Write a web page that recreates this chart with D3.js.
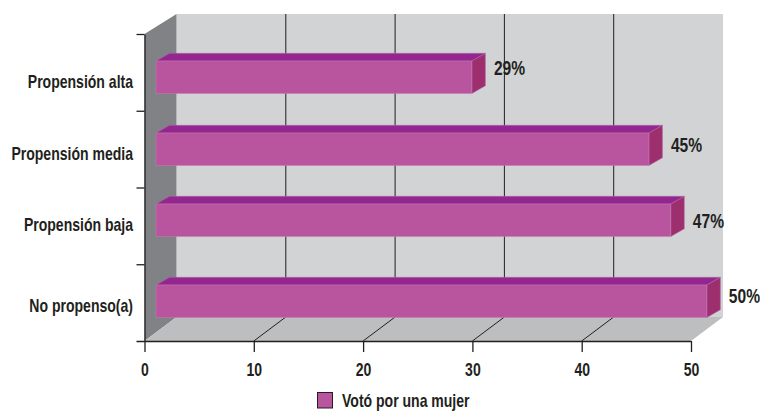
<!DOCTYPE html>
<html>
<head>
<meta charset="utf-8">
<script src="https://d3js.org/d3.v7.min.js"></script>
<style>
  html, body { margin: 0; padding: 0; background: #fff; }
  svg { display: block; }
  text { font-family: "Liberation Sans", sans-serif; font-weight: bold; fill: #231f20; font-size: 18px; }
  .axis path, .axis line { stroke: #231f20; stroke-width: 1.3; }
</style>
</head>
<body>
<script>
// datos
var categories = ["Propensión alta", "Propensión media", "Propensión baja", "No propenso(a)"];
var values = [28.9, 45.1, 47.1, 50.4];
var valueLabels = ["29%", "45%", "47%", "50%"];
var xTicks = [0, 10, 20, 30, 40, 50];
var legendLabel = "Votó por una mujer";

var width = 760, height = 411;
var squeeze = 0.78; // no condensed font here, so squeeze the text by hand

var svg = d3.select("body").append("svg")
  .attr("width", width)
  .attr("height", height);

// escalas
var x = d3.scaleLinear().domain([0, 50]).range([144.5, 691]);
var yTick = d3.scaleLinear().domain([0, 4]).range([34, 341]);
// bars and value labels are not evenly spaced in the original
var yBar = d3.scaleOrdinal().domain(categories).range([61, 133, 204, 285]);
var yVal = d3.scaleOrdinal().domain(categories).range([75, 152, 228, 303]);

var wallDx = 32, wallDy = 24, wallTop = 14;
var barStart = 11.5, barH = 32.5, barDx = 13.5, barDy = 7.7;

function pts(a) { return a.map(function(p) { return p.join(","); }).join(" "); }
function place(px, py) { return "translate(" + px + "," + py + ") scale(" + squeeze + ",1)"; }

var x0 = x(0), x1 = x(50), yB = yTick(4), yT = yTick(0);

// paredes
svg.append("polygon").attr("fill", "#d1d3d4")
  .attr("points", pts([[x0 + wallDx, wallTop], [x1 + wallDx, wallTop], [x1 + wallDx, yB - wallDy], [x0 + wallDx, yB - wallDy]]));
svg.append("polygon").attr("fill", "#808285")
  .attr("points", pts([[x0, yT], [x0 + wallDx, wallTop], [x0 + wallDx, yB - wallDy], [x0, yB]]));
svg.append("polygon").attr("fill", "#bcbec0")
  .attr("points", pts([[x0, yB], [x0 + wallDx, yB - wallDy], [x1 + wallDx, yB - wallDy], [x1, yB]]));

// grid
var gridTicks = xTicks.slice(1, 5);
svg.selectAll(".gridv").data(gridTicks).enter().append("line")
  .attr("class", "gridv")
  .attr("x1", function(d) { return x(d) + wallDx; })
  .attr("x2", function(d) { return x(d) + wallDx; })
  .attr("y1", wallTop)
  .attr("y2", yB - wallDy)
  .attr("stroke", "#231f20").attr("stroke-width", 1);
svg.selectAll(".gridf").data(gridTicks).enter().append("line")
  .attr("class", "gridf")
  .attr("x1", function(d) { return x(d); })
  .attr("x2", function(d) { return x(d) + wallDx; })
  .attr("y1", yB)
  .attr("y2", yB - wallDy)
  .attr("stroke", "#231f20").attr("stroke-width", 1);

// barras
var bars = svg.selectAll(".bar").data(categories).enter().append("g").attr("class", "bar");

bars.append("polygon").attr("fill", "#93278f")
  .attr("stroke", "#b06aa8").attr("stroke-width", 0.5)
  .attr("points", function(d, i) {
    var l = x(0) + barStart, r = x(values[i]) + barStart, t = yBar(d);
    return pts([[l, t], [l + barDx, t - barDy], [r + barDx, t - barDy], [r, t]]);
  });
bars.append("polygon").attr("fill", "#9e2f6e")
  .attr("stroke", "#b06aa8").attr("stroke-width", 0.5)
  .attr("points", function(d, i) {
    var r = x(values[i]) + barStart, t = yBar(d);
    return pts([[r, t], [r + barDx, t - barDy], [r + barDx, t + barH - barDy], [r, t + barH]]);
  });
bars.append("rect").attr("fill", "#b9559f")
  .attr("stroke", "#c57db5").attr("stroke-width", 0.5)
  .attr("x", x(0) + barStart)
  .attr("y", function(d) { return yBar(d); })
  .attr("width", function(d, i) { return x(values[i]) - x(0); })
  .attr("height", barH);

// ejes
svg.append("g").attr("class", "axis")
  .attr("transform", "translate(0," + yB + ")")
  .call(d3.axisBottom(x).tickValues(xTicks).tickSize(11).tickSizeOuter(0).tickPadding(9).tickFormat(d3.format("d")))
  .call(function(g) {
    g.select(".domain").attr("d", "M" + (x0 - 8) + ",0.5H" + x1);
    g.selectAll("text")
      .attr("y", 35).attr("dy", null)
      .attr("transform", "scale(" + squeeze + ",1)")
      .style("font-size", "18px").style("font-family", null);
  });
svg.append("g").attr("class", "axis")
  .attr("transform", "translate(" + x0 + ",0)")
  .call(d3.axisLeft(yTick).tickValues([0, 1, 2, 3]).tickSize(8).tickSizeOuter(0).tickFormat(""));

// etiquetas
svg.selectAll(".cat").data(categories).enter().append("text")
  .attr("class", "cat")
  .attr("transform", function(d) { return place(133, yBar(d) + 27); })
  .attr("text-anchor", "end")
  .text(function(d) { return d; });

svg.selectAll(".val").data(valueLabels).enter().append("text")
  .attr("class", "val")
  .attr("transform", function(d, i) { return place(x(values[i]) + barStart + barDx + 8.5, yVal(categories[i])); })
  .style("font-size", "20px")
  .text(function(d) { return d; });

// leyenda
svg.append("rect")
  .attr("x", 317.5).attr("y", 392.5).attr("width", 15).attr("height", 15.5)
  .attr("fill", "#b9559f").attr("stroke", "#231f20").attr("stroke-width", 1);
svg.append("text")
  .attr("transform", place(342, 407))
  .text(legendLabel);
</script>
</body>
</html>
